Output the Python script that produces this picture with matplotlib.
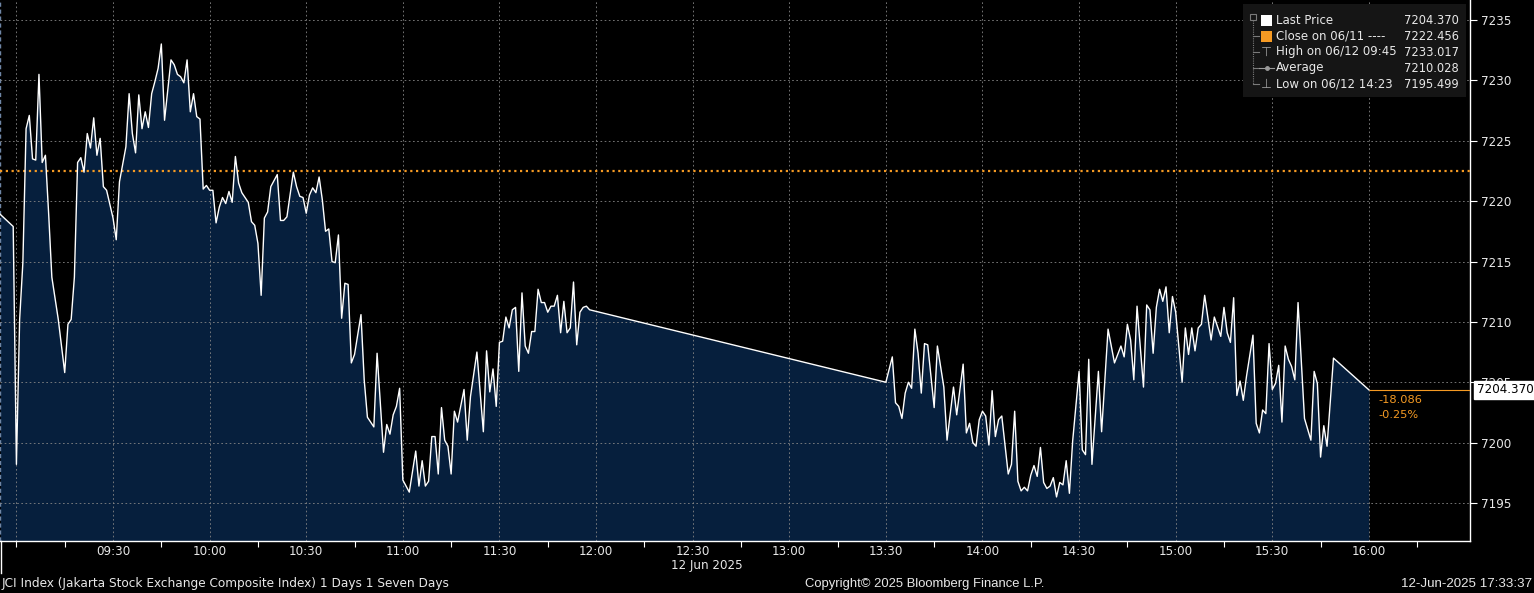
import matplotlib
matplotlib.use("Agg")
import matplotlib.pyplot as plt
import matplotlib.transforms as mtransforms
from matplotlib.lines import Line2D
from matplotlib.patches import Rectangle
import pandas as pd

day = "2025-06-12"

# JCI intraday prints
am_times = ["08:55", "08:59", "09:00", "09:01", "09:02", "09:03", "09:04", "09:05", "09:06", "09:07",
            "09:08", "09:09", "09:10", "09:11", "09:13", "09:15", "09:16", "09:17", "09:18", "09:19",
            "09:20", "09:21", "09:22", "09:23", "09:24", "09:25", "09:26", "09:27", "09:28", "09:30",
            "09:31", "09:32", "09:34", "09:35", "09:36", "09:37", "09:38", "09:39", "09:40", "09:41",
            "09:42", "09:43", "09:44", "09:45", "09:46", "09:47", "09:48", "09:49", "09:50", "09:51",
            "09:52", "09:53", "09:54", "09:55", "09:56", "09:57", "09:58", "09:59", "10:00", "10:01",
            "10:02", "10:03", "10:04", "10:05", "10:06", "10:07", "10:08", "10:09", "10:10", "10:12",
            "10:13", "10:14", "10:15", "10:16", "10:17", "10:18", "10:19", "10:21", "10:22", "10:23",
            "10:24", "10:26", "10:27", "10:28", "10:29", "10:30", "10:31", "10:32", "10:33", "10:34",
            "10:35", "10:36", "10:37", "10:38", "10:39", "10:40", "10:41", "10:42", "10:43", "10:44",
            "10:45", "10:47", "10:48", "10:49", "10:51", "10:52", "10:54", "10:55", "10:56", "10:57",
            "10:58", "10:59", "11:00", "11:02", "11:04", "11:05", "11:06", "11:07", "11:08", "11:09",
            "11:10", "11:11", "11:12", "11:13", "11:14", "11:15", "11:16", "11:17", "11:19", "11:20",
            "11:21", "11:23", "11:25", "11:26", "11:27", "11:28", "11:29", "11:30", "11:31", "11:32",
            "11:33", "11:34", "11:35", "11:36", "11:37", "11:38", "11:39", "11:40", "11:41", "11:42",
            "11:43", "11:44", "11:45", "11:46", "11:47", "11:48", "11:49", "11:50", "11:51", "11:52",
            "11:53", "11:54", "11:55", "11:56", "11:57", "11:58"]
am_prices = [7218.9, 7217.9, 7198.2, 7210.2, 7214.9, 7226.0, 7227.1, 7223.5, 7223.4, 7230.5,
             7223.2, 7223.8, 7219.0, 7213.7, 7210.2, 7205.8, 7209.8, 7210.2, 7213.7, 7223.2,
             7223.6, 7222.4, 7225.6, 7224.4, 7226.9, 7223.8, 7225.2, 7221.2, 7220.9, 7218.6,
             7216.8, 7221.6, 7224.5, 7228.9, 7225.6, 7224.0, 7228.8, 7226.0, 7227.4, 7226.1,
             7228.9, 7229.9, 7231.0, 7233.017, 7226.7, 7229.2, 7231.7, 7231.3, 7230.5, 7230.3,
             7229.8, 7231.7, 7227.4, 7228.9, 7227.0, 7226.8, 7221.0, 7221.3, 7220.9, 7220.9,
             7218.2, 7219.5, 7220.3, 7219.8, 7220.8, 7219.9, 7223.7, 7221.5, 7220.7, 7219.9,
             7218.3, 7218.0, 7216.5, 7212.2, 7218.6, 7219.1, 7221.2, 7222.2, 7218.4, 7218.4,
             7218.7, 7222.4, 7221.2, 7220.4, 7220.3, 7219.0, 7220.5, 7221.1, 7220.7, 7222.0,
             7220.1, 7217.5, 7217.7, 7215.0, 7214.9, 7217.2, 7210.3, 7213.2, 7213.1, 7206.6,
             7207.3, 7210.6, 7205.2, 7202.1, 7201.3, 7207.4, 7199.2, 7201.5, 7200.7, 7202.3,
             7203.0, 7204.5, 7196.9, 7195.9, 7199.3, 7196.4, 7198.5, 7196.4, 7196.8, 7200.5,
             7200.5, 7197.4, 7202.9, 7200.2, 7199.7, 7197.4, 7202.6, 7201.7, 7204.4, 7200.2,
             7203.8, 7207.5, 7200.9, 7207.6, 7204.2, 7206.1, 7203.0, 7208.3, 7208.4, 7210.4,
             7209.5, 7211.0, 7211.2, 7205.9, 7212.4, 7208.0, 7207.4, 7209.2, 7209.2, 7212.7,
             7211.6, 7211.6, 7210.8, 7211.3, 7211.3, 7212.2, 7209.1, 7211.7, 7209.1, 7209.5,
             7213.3, 7208.1, 7210.8, 7211.2, 7211.3, 7211.0]

pm_times = ["13:30", "13:32", "13:33", "13:34", "13:35", "13:36", "13:37", "13:38", "13:39", "13:40",
            "13:41", "13:42", "13:43", "13:45", "13:46", "13:48", "13:49", "13:51", "13:52", "13:54",
            "13:55", "13:56", "13:57", "13:58", "13:59", "14:00", "14:01", "14:02", "14:03", "14:04",
            "14:05", "14:06", "14:08", "14:09", "14:10", "14:11", "14:12", "14:13", "14:14", "14:15",
            "14:16", "14:17", "14:18", "14:19", "14:20", "14:21", "14:22", "14:23", "14:24", "14:25",
            "14:26", "14:27", "14:28", "14:30", "14:31", "14:32", "14:33", "14:34", "14:36", "14:37",
            "14:39", "14:41", "14:43", "14:44", "14:45", "14:46", "14:47", "14:48", "14:50", "14:51",
            "14:52", "14:53", "14:54", "14:55", "14:56", "14:57", "14:58", "14:59", "15:00", "15:02",
            "15:03", "15:04", "15:05", "15:06", "15:07", "15:08", "15:09", "15:11", "15:12", "15:14",
            "15:15", "15:16", "15:17", "15:18", "15:19", "15:20", "15:21", "15:22", "15:24", "15:25",
            "15:26", "15:27", "15:28", "15:29", "15:30", "15:31", "15:32", "15:33", "15:34", "15:35",
            "15:36", "15:37", "15:38", "15:40", "15:42", "15:43", "15:44", "15:45", "15:46", "15:47",
            "15:49", "16:00"]
pm_prices = [7205.0, 7207.1, 7203.3, 7203.0, 7202.0, 7204.1, 7205.0, 7204.5, 7209.4, 7207.4,
             7204.1, 7208.2, 7208.1, 7202.9, 7208.0, 7204.6, 7200.2, 7204.6, 7202.3, 7206.5,
             7200.8, 7201.6, 7200.0, 7199.7, 7201.9, 7202.6, 7202.2, 7199.8, 7204.3, 7200.5,
             7201.9, 7202.2, 7197.4, 7198.2, 7202.6, 7196.8, 7196.0, 7196.3, 7196.0, 7197.3,
             7198.1, 7197.2, 7199.6, 7196.7, 7196.2, 7196.4, 7197.1, 7195.499, 7196.7, 7196.5,
             7198.5, 7195.8, 7200.1, 7205.9, 7199.4, 7199.0, 7206.9, 7198.2, 7205.9, 7200.9,
             7209.4, 7206.6, 7208.0, 7207.1, 7209.8, 7208.5, 7205.2, 7211.3, 7204.6, 7211.4,
             7211.0, 7207.4, 7211.2, 7212.7, 7211.7, 7212.9, 7209.1, 7212.1, 7210.8, 7205.0,
             7209.5, 7207.3, 7209.5, 7207.6, 7209.5, 7209.8, 7212.2, 7208.5, 7210.4, 7208.8,
             7211.2, 7209.1, 7208.3, 7212.0, 7203.9, 7205.1, 7203.5, 7205.5, 7208.9, 7201.6,
             7200.8, 7202.7, 7202.4, 7208.2, 7204.4, 7204.9, 7206.4, 7201.7, 7208.0, 7206.9,
             7206.3, 7205.2, 7211.6, 7202.0, 7200.2, 7205.9, 7204.9, 7198.8, 7201.4, 7199.7,
             7207.0, 7204.37]

prev_close = 7222.456
high_px, high_time = 7233.017, "09:45"
low_px, low_time = 7195.499, "14:23"
avg_px = 7210.028
y_ticks = [7195, 7200, 7205, 7210, 7215, 7220, 7225, 7230, 7235]
x_labels = ["09:30", "10:00", "10:30", "11:00", "11:30", "12:00", "12:30", "13:00",
            "13:30", "14:00", "14:30", "15:00", "15:30", "16:00"]

W, H = 1534, 593
BG = "black"
FILL = "#061f3d"
ORANGE = "#f59a23"
GRID = "#858585"
TXT = "#e8e8e8"


def ts(s):
    return pd.Timestamp(f"{day} {s}")


def px(x, y):
    return x / W, 1 - y / H


times = pd.to_datetime([f"{day} {s}" for s in am_times + pm_times])
prices = am_prices + pm_prices
last = prices[-1]
y_lo, y_hi = 7191.85, 7236.66

fig = plt.figure(figsize=(W / 100, H / 100), dpi=100, facecolor=BG)
ax = fig.add_axes([0, 52 / H, 1470 / W, 541 / H], facecolor=BG)

ax.fill_between(times, prices, y_lo, color=FILL, lw=0, zorder=1)
ax.plot(times, prices, color="white", lw=1.0, zorder=4)
ax.axhline(prev_close, color=ORANGE, lw=1.6, ls=(0, (1, 1.6)), zorder=3)

x0, x1 = ts("08:54:54"), ts("16:31:24")
ax.set_xlim(x0, x1)
ax.set_ylim(y_lo, y_hi)

# grid
grid_times = [ts("09:00")] + [ts(s) for s in x_labels]
for g in grid_times:
    ax.axvline(g, color=GRID, lw=0.6, ls=(0, (2, 3)), zorder=2)
ax.axvline(x0, color="#6f86a6", lw=1.0, ls=(0, (3, 2)), zorder=2)
for v in y_ticks:
    ax.axhline(v, color=GRID, lw=0.6, ls=(0, (2, 3)), zorder=2)

# x axis
ax.set_xticks([ts(s) for s in x_labels])
ax.set_xticklabels(x_labels)
minor = [ts("09:00")] + list(pd.date_range(ts("09:15"), ts("16:15"), freq="30min"))
ax.set_xticks(minor, minor=True)
ax.tick_params(axis="x", which="major", length=0, pad=3, labelsize=8.6, labelcolor=TXT)
ax.tick_params(axis="x", which="minor", length=4, width=0.8, color="white")

# y axis on the right
ax.yaxis.tick_right()
ax.set_yticks(y_ticks)
ax.set_yticklabels([str(v) for v in y_ticks])
ax.tick_params(axis="y", length=5, width=0.8, color="white", pad=3, labelsize=8.6, labelcolor=TXT)

for s in ["top", "left"]:
    ax.spines[s].set_visible(False)
for s in ["right", "bottom"]:
    ax.spines[s].set_color("white")
    ax.spines[s].set_linewidth(1.0)

# last price tag and change
blend = mtransforms.blended_transform_factory(ax.transAxes, ax.transData)
ax.hlines(last, times[-1], x1, color=ORANGE, lw=0.8, zorder=3)
ax.text(1.0045, last, f"{last:.3f}", transform=blend, ha="left", va="center", fontsize=8.6,
        color="black", clip_on=False, zorder=6,
        bbox=dict(boxstyle="square,pad=0.22", fc="white", ec="white"))
chg = last - prev_close
ax.text(1378 / 1470, last - 0.85, f"{chg:.3f}", transform=blend, ha="left", va="center",
        fontsize=8.2, color=ORANGE)
ax.text(1378 / 1470, last - 2.1, f"{chg / prev_close * 100:.2f}%", transform=blend, ha="left",
        va="center", fontsize=8.2, color=ORANGE)

# legend panel
fig.patches.append(Rectangle(px(1243, 97), 223 / W, 93 / H, transform=fig.transFigure,
                             fc="#151515", ec="none", zorder=5))
rows = [("Last Price", f"{last:.3f}"),
        ("Close on 06/11 ----", f"{prev_close:.3f}"),
        (f"High on 06/12 {high_time}", f"{high_px:.3f}"),
        ("Average", f"{avg_px:.3f}"),
        (f"Low on 06/12 {low_time}", f"{low_px:.3f}")]
row_y = [20, 36, 52, 68, 84]
for (lab, val), ry in zip(rows, row_y):
    fig.text(*px(1276, ry), lab, ha="left", va="center", fontsize=8.5, color=TXT, zorder=6)
    fig.text(*px(1459, ry), val, ha="right", va="center", fontsize=8.3, color=TXT, zorder=6)

fig.patches.append(Rectangle(px(1261, 26), 11 / W, 11 / H, transform=fig.transFigure,
                             fc="white", ec="none", zorder=6))
fig.patches.append(Rectangle(px(1261, 42), 11 / W, 11 / H, transform=fig.transFigure,
                             fc=ORANGE, ec="none", zorder=6))
tree = "#7a7a7a"
fig.patches.append(Rectangle(px(1250, 20), 6 / W, 6 / H, transform=fig.transFigure,
                             fc="none", ec=tree, lw=0.8, zorder=6))
fig.lines.append(Line2D([1253 / W] * 2, [1 - 20 / H, 1 - 84 / H], transform=fig.transFigure,
                        color=tree, lw=0.8, ls=(0, (1, 1)), zorder=6))
for ry in row_y[1:]:
    fig.lines.append(Line2D([1253 / W, 1259 / W], [1 - ry / H] * 2, transform=fig.transFigure,
                            color=tree, lw=0.8, zorder=6))
fig.text(*px(1266, 52), "\u22a4", ha="center", va="center", fontsize=9, color="#9a9a9a", zorder=6)
fig.lines.append(Line2D([1259 / W, 1274 / W], [1 - 68 / H] * 2, transform=fig.transFigure,
                        color="#9a9a9a", lw=0.8, zorder=6))
fig.lines.append(Line2D([1266.5 / W], [1 - 68 / H], transform=fig.transFigure,
                        color="#9a9a9a", marker="o", ms=2.5, lw=0, zorder=7))
fig.text(*px(1266, 84), "\u22a5", ha="center", va="center", fontsize=9, color="#9a9a9a", zorder=6)

# footer
fig.lines.append(Line2D([0.6 / W] * 2, [1 - 541 / H, 1 - 573 / H], transform=fig.transFigure,
                        color="white", lw=1.0))
fig.text(*px(707, 566), "12 Jun 2025", ha="center", va="center", fontsize=8.6, color=TXT)
fig.text(*px(2, 584), "JCI Index (Jakarta Stock Exchange Composite Index) 1 Days 1 Seven Days",
         ha="left", va="center", fontsize=8.75, color=TXT)
fig.text(*px(805, 584), "Copyright\u00a9 2025 Bloomberg Finance L.P.", ha="left", va="center",
         fontsize=9.4, color=TXT, family="Liberation Sans")
fig.text(*px(1532, 584), "12-Jun-2025 17:33:37", ha="right", va="center", fontsize=9.6,
         color=TXT, family="Liberation Sans")

fig.savefig("out.png", dpi=100, facecolor=BG)
